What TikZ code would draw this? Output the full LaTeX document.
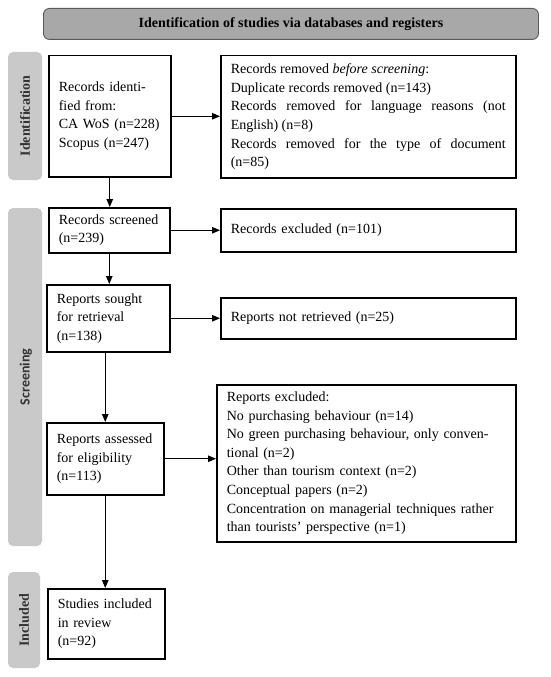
\documentclass[tikz,border=0pt]{standalone}
\usepackage{fontspec}
\setmainfont{Liberation Serif}
\newfontfamily\calfont{Carlito}
\usetikzlibrary{arrows.meta}
\definecolor{hdrfill}{HTML}{A8A8A8}
\definecolor{hdrdraw}{HTML}{5A5A5A}
\definecolor{sidefill}{HTML}{C9C9C9}
\definecolor{sidetext}{HTML}{333333}
\tikzset{
  stage/.style={fill=sidefill, rounded corners=5pt, draw=none},
  stagelabel/.style={rotate=90, font=\fontsize{14}{16}\selectfont\bfseries, text=sidetext},
  flowbox/.style={draw=black, line width=1.5pt, anchor=north west, inner xsep=10pt, inner ysep=4pt,
    font=\fontsize{14}{18.6}\selectfont, align=left},
  arr/.style={line width=1pt, -{Triangle[length=8pt,width=6.5pt]}}
}
\begin{document}
\begin{tikzpicture}[x=1pt,y=-1pt]
\useasboundingbox (0,0) rectangle (550,677);
% header
\node[draw=hdrdraw, fill=hdrfill, line width=0.9pt, rounded corners=6pt, anchor=north west,
  minimum width=495pt, minimum height=31pt, inner sep=0pt,
  font=\fontsize{14}{16}\selectfont\bfseries] (hdr) at (43,8)
  {Identification of studies via databases and registers};
% side stages
\path[stage] (8,52) rectangle (42,180);
\node[stagelabel] (sid) at (25,116) {Identification};
\path[stage] (8,208) rectangle (42,546);
\node[stagelabel, font=\calfont\fontsize{14}{16}\selectfont\bfseries] (sscr) at (26,377) {Screening};
\path[stage] (8,572) rectangle (40,668);
\node[stagelabel] (sinc) at (24,620) {Included};
% boxes
\node[flowbox, text width=102pt, minimum width=122pt, minimum height=121pt] (b1) at (48,55)
  {Records identi-\\fied from:\\CA WoS (n=228)\\Scopus (n=247)};
\node[flowbox, text width=275pt, minimum width=295pt, minimum height=122pt, align=justify] (b2) at (220,55)
  {Records removed \emph{before screening}:\newline Duplicate records removed (n=143)\newline Records removed for language reasons (not\linebreak English) (n=8)\newline Records removed for the type of document\linebreak (n=85)};
\node[flowbox, text width=101pt, minimum width=121pt, minimum height=45pt] (b3) at (48,207)
  {Records screened\\(n=239)};
\node[flowbox, text width=275pt, minimum width=295pt, minimum height=43pt] (b4) at (220,208)
  {Records excluded (n=101)};
\node[flowbox, text width=103pt, minimum width=123pt, minimum height=67pt] (b5) at (46,284)
  {Reports sought\\for retrieval\\(n=138)};
\node[flowbox, text width=275pt, minimum width=295pt, minimum height=41pt] (b6) at (220,297)
  {Reports not retrieved (n=25)};
\node[flowbox, text width=97pt, minimum width=117pt, minimum height=72pt] (b7) at (46,422)
  {Reports assessed\\for eligibility\\(n=113)};
\node[flowbox, text width=279pt, minimum width=299pt, minimum height=157pt] (b8) at (216,384)
  {Reports excluded:\\No purchasing behaviour (n=14)\\No green purchasing behaviour, only conven-\\tional (n=2)\\Other than tourism context (n=2)\\Conceptual papers (n=2)\\Concentration on managerial techniques rather\\than tourists’ perspective (n=1)};
\node[flowbox, text width=97pt, minimum width=117pt, minimum height=70pt] (b9) at (47,588)
  {Studies included\\in review\\(n=92)};
% connectors
\draw[arr] (b1.east) -- (b1.east -| b2.west);
\draw[arr] (b1.south) -- (b1.south |- b3.north);
\draw[arr] (b3.east) -- (b3.east -| b4.west);
\draw[arr] (b3.south) -- (b3.south |- b5.north);
\draw[arr] (b5.east) -- (b5.east -| b6.west);
\draw[arr] (b7.north |- b5.south) -- (b7.north);
\draw[arr] (b7.east) -- (b7.east -| b8.west);
\draw[arr] (b7.south) -- (b7.south |- b9.north);
\end{tikzpicture}
\end{document}
